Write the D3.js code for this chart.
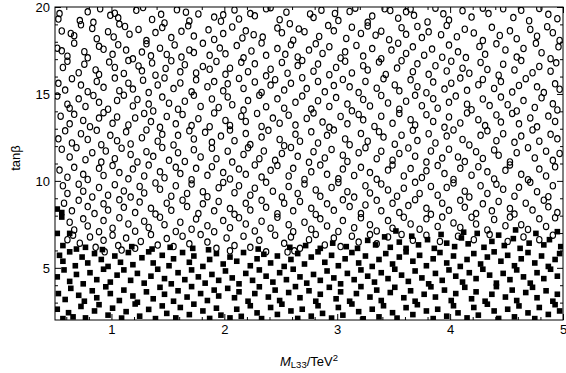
<!DOCTYPE html>
<html><head><meta charset="utf-8">
<script src="https://cdn.jsdelivr.net/npm/d3@7"></script>
<style>body{margin:0;background:#fff}svg{display:block}</style>
</head><body><svg id="c" width="566" height="373"></svg>
<script>
const xDomain=[0.5,5], yDomain=[2,20];
const xMajorTicks=[1,2,3,4,5];
const yMajorTicks=[5,10,15,20];
const xMinorTicks=[0.6,0.8,1.2,1.4,1.6,1.8,2.2,2.4,2.6,2.8,3.2,3.4,3.6,3.8,4.2,4.4,4.6,4.8];
const yMinorTicks=[3,4,6,7,8,9,11,12,13,14,16,17,18,19];
const xTitle={main:"M",sub:"L33",rest:"/TeV",sup:"2"};
const yTitle="tanβ";
// open circles: allowed points (x = M_L33 / TeV^2, y = tan beta)
const openPoints=[
[0.54,19.62],[0.53,19.31],[0.72,19.22],[0.73,18.98],[0.79,19.72],[0.84,19.12],[0.90,19.90],[0.99,19.52],[1.03,19.64],[1.06,19.38],[1.07,19.02],[1.22,19.81],[1.28,19.97],[1.36,19.28],[1.44,19.58],[1.47,19.08],[1.58,19.84],[1.66,19.70],[1.69,19.20],[1.77,19.60],[1.91,19.42],[1.97,19.18],[1.99,19.55],[2.09,19.83],[2.13,19.31],[2.23,19.62],[2.27,19.49],[2.37,19.90],[2.41,19.96],[2.49,19.27],[2.55,19.70],[2.58,19.04],[2.76,19.60],[2.79,19.40],[2.86,19.82],[2.98,19.63],[3.01,19.22],[3.11,19.74],[3.16,19.93],[3.27,19.12],[3.31,19.48],[3.42,19.90],[3.47,19.80],[3.54,19.36],[3.61,19.72],[3.65,19.88],[3.68,19.52],[3.80,19.14],[3.87,19.93],[3.94,19.61],[3.99,19.25],[4.11,19.79],[4.19,19.42],[4.29,19.93],[4.34,19.62],[4.47,19.90],[4.56,19.39],[4.63,19.81],[4.70,19.21],[4.79,19.92],[4.87,19.58],[4.95,19.33],
[0.56,18.62],[0.64,18.48],[0.67,18.35],[0.83,18.77],[0.87,18.18],[0.97,18.58],[1.02,18.28],[1.12,18.88],[1.16,18.44],[1.24,18.71],[1.31,18.07],[1.39,18.53],[1.45,18.82],[1.53,18.24],[1.62,18.60],[1.68,18.92],[1.73,18.33],[1.86,18.69],[1.91,18.13],[1.99,18.47],[2.07,18.85],[2.16,18.22],[2.19,18.63],[2.26,18.41],[2.34,18.27],[2.47,18.79],[2.51,18.52],[2.61,18.09],[2.66,18.74],[2.71,18.58],[2.84,18.31],[2.92,18.93],[2.97,18.63],[3.08,18.19],[3.13,18.84],[3.21,18.48],[3.27,18.91],[3.34,18.38],[3.39,18.61],[3.46,18.12],[3.57,18.81],[3.61,18.43],[3.71,18.88],[3.75,18.24],[3.81,18.57],[3.92,18.41],[3.97,18.94],[4.06,18.29],[4.13,18.72],[4.21,18.51],[4.29,18.07],[4.37,18.83],[4.44,18.36],[4.53,18.63],[4.59,18.18],[4.71,18.71],[4.77,18.32],[4.86,18.87],[4.91,18.52],[4.97,18.08],
[0.52,17.63],[0.56,17.48],[0.61,17.17],[0.67,17.92],[0.76,17.43],[0.79,17.08],[0.89,17.74],[0.93,17.57],[1.01,17.28],[1.06,17.83],[1.13,17.52],[1.19,17.02],[1.27,17.41],[1.31,17.88],[1.35,17.19],[1.43,17.63],[1.49,17.27],[1.56,17.82],[1.62,17.12],[1.69,17.53],[1.73,17.38],[1.81,17.91],[1.87,17.22],[1.96,17.64],[2.01,17.31],[2.11,17.78],[2.17,17.08],[2.24,17.47],[2.33,17.93],[2.37,17.22],[2.47,17.61],[2.54,17.28],[2.59,17.83],[2.65,17.13],[2.75,17.52],[2.81,17.88],[2.87,17.33],[2.93,17.72],[3.03,17.07],[3.07,17.42],[3.17,17.79],[3.23,17.18],[3.31,17.61],[3.39,17.03],[3.48,17.52],[3.54,17.92],[3.61,17.33],[3.67,17.71],[3.77,17.23],[3.84,17.58],[3.93,17.11],[3.99,17.81],[4.07,17.42],[4.14,17.09],[4.26,17.73],[4.31,17.28],[4.41,17.88],[4.49,17.53],[4.59,17.12],[4.65,17.62],[4.76,17.91],[4.81,17.37],[4.89,17.03],[4.96,17.71],
[0.57,16.52],[0.61,16.88],[0.71,16.22],[0.76,16.71],[0.86,16.38],[0.89,16.12],[0.98,16.83],[1.03,16.52],[1.11,16.18],[1.15,16.92],[1.24,16.61],[1.27,16.33],[1.36,16.78],[1.39,16.08],[1.48,16.47],[1.53,16.91],[1.61,16.27],[1.65,16.68],[1.75,16.21],[1.81,16.58],[1.87,16.42],[1.93,16.87],[2.01,16.13],[2.05,16.48],[2.15,16.82],[2.21,16.28],[2.27,16.73],[2.37,16.04],[2.41,16.42],[2.51,16.81],[2.56,16.19],[2.65,16.63],[2.69,16.93],[2.79,16.31],[2.83,16.72],[2.93,16.11],[2.99,16.52],[3.07,16.88],[3.13,16.21],[3.23,16.62],[3.27,16.38],[3.37,16.83],[3.43,16.12],[3.53,16.49],[3.57,16.91],[3.67,16.28],[3.71,16.73],[3.81,16.13],[3.87,16.62],[3.97,16.32],[4.01,16.88],[4.11,16.48],[4.17,16.19],[4.27,16.81],[4.33,16.41],[4.43,16.08],[4.47,16.71],[4.57,16.38],[4.63,16.92],[4.73,16.22],[4.79,16.58],[4.89,16.31],[4.94,16.79],
[0.53,15.61],[0.59,15.22],[0.65,15.88],[0.73,15.51],[0.79,15.13],[0.87,15.72],[0.93,15.38],[1.03,15.91],[1.07,15.19],[1.15,15.62],[1.19,15.28],[1.28,15.79],[1.33,15.08],[1.41,15.52],[1.47,15.92],[1.55,15.31],[1.61,15.63],[1.71,15.12],[1.75,15.81],[1.85,15.42],[1.91,15.71],[1.99,15.18],[2.03,15.58],[2.13,15.89],[2.17,15.32],[2.27,15.69],[2.33,15.09],[2.41,15.51],[2.45,15.82],[2.53,15.22],[2.59,15.61],[2.69,15.93],[2.73,15.31],[2.83,15.72],[2.89,15.12],[2.97,15.48],[3.05,15.83],[3.11,15.41],[3.19,15.08],[3.25,15.72],[3.35,15.33],[3.41,15.88],[3.51,15.52],[3.55,15.18],[3.65,15.81],[3.71,15.42],[3.79,15.07],[3.85,15.68],[3.95,15.28],[4.01,15.62],[4.09,15.91],[4.15,15.21],[4.25,15.53],[4.29,15.83],[4.39,15.32],[4.45,15.71],[4.55,15.11],[4.61,15.49],[4.67,15.88],[4.77,15.41],[4.83,15.08],[4.93,15.58],[4.97,15.27],
[0.52,14.88],[0.61,14.41],[0.63,14.18],[0.71,14.72],[0.77,14.28],[0.84,14.91],[0.89,14.52],[0.97,14.12],[1.05,14.63],[1.11,14.93],[1.19,14.31],[1.23,14.68],[1.33,14.42],[1.37,14.02],[1.45,14.82],[1.51,14.47],[1.59,14.12],[1.65,14.58],[1.73,14.92],[1.79,14.28],[1.89,14.71],[1.95,14.22],[2.03,14.83],[2.07,14.38],[2.17,14.07],[2.21,14.62],[2.31,14.93],[2.37,14.27],[2.47,14.72],[2.53,14.18],[2.63,14.52],[2.69,14.88],[2.77,14.13],[2.83,14.61],[2.93,14.28],[2.99,14.79],[3.09,14.42],[3.13,14.03],[3.23,14.68],[3.29,14.31],[3.39,14.91],[3.45,14.48],[3.55,14.12],[3.61,14.58],[3.69,14.92],[3.75,14.32],[3.85,14.73],[3.89,14.18],[3.99,14.52],[4.05,14.88],[4.15,14.41],[4.19,14.09],[4.29,14.71],[4.35,14.33],[4.45,14.82],[4.51,14.38],[4.59,14.02],[4.65,14.62],[4.75,14.22],[4.81,14.78],[4.91,14.43],[4.95,14.08],
[0.55,13.72],[0.63,13.28],[0.67,13.83],[0.75,13.48],[0.81,13.12],[0.89,13.61],[0.93,13.92],[1.01,13.31],[1.05,13.68],[1.15,13.22],[1.21,13.62],[1.29,13.88],[1.35,13.41],[1.43,13.08],[1.49,13.71],[1.57,13.28],[1.63,13.82],[1.71,13.18],[1.77,13.58],[1.87,13.12],[1.91,13.91],[2.01,13.48],[2.05,13.19],[2.15,13.72],[2.19,13.42],[2.29,13.88],[2.33,13.13],[2.43,13.61],[2.49,13.32],[2.57,13.78],[2.63,13.21],[2.73,13.59],[2.79,13.91],[2.87,13.38],[2.93,13.08],[3.03,13.71],[3.09,13.28],[3.19,13.82],[3.23,13.51],[3.33,13.13],[3.39,13.72],[3.49,13.31],[3.55,13.88],[3.65,13.52],[3.69,13.22],[3.79,13.81],[3.85,13.42],[3.95,13.08],[3.99,13.68],[4.09,13.33],[4.15,13.91],[4.25,13.52],[4.31,13.18],[4.41,13.79],[4.45,13.38],[4.55,13.88],[4.61,13.28],[4.71,13.62],[4.77,13.11],[4.87,13.73],[4.93,13.42],
[0.53,12.42],[0.59,12.88],[0.65,12.18],[0.73,12.71],[0.79,12.38],[0.87,12.91],[0.91,12.08],[0.99,12.62],[1.05,12.31],[1.13,12.82],[1.17,12.12],[1.27,12.48],[1.31,12.93],[1.41,12.28],[1.45,12.68],[1.55,12.07],[1.59,12.62],[1.69,12.88],[1.73,12.41],[1.83,12.79],[1.89,12.22],[1.97,12.58],[2.05,12.92],[2.09,12.31],[2.19,12.72],[2.23,12.09],[2.33,12.52],[2.39,12.91],[2.49,12.38],[2.53,12.02],[2.63,12.68],[2.67,12.28],[2.77,12.82],[2.83,12.18],[2.91,12.62],[2.97,12.92],[3.07,12.41],[3.11,12.08],[3.21,12.72],[3.27,12.28],[3.37,12.83],[3.41,12.52],[3.51,12.11],[3.57,12.63],[3.67,12.91],[3.71,12.32],[3.81,12.71],[3.87,12.18],[3.97,12.58],[4.03,12.93],[4.11,12.38],[4.17,12.07],[4.27,12.62],[4.33,12.88],[4.41,12.31],[4.47,12.71],[4.57,12.22],[4.63,12.58],[4.73,12.93],[4.79,12.28],[4.89,12.68],[4.95,12.42],
[0.56,11.82],[0.63,11.38],[0.69,11.91],[0.77,11.22],[0.83,11.62],[0.91,11.08],[0.95,11.72],[1.03,11.28],[1.09,11.88],[1.17,11.52],[1.23,11.09],[1.31,11.68],[1.37,11.41],[1.45,11.92],[1.51,11.18],[1.59,11.62],[1.65,11.12],[1.73,11.79],[1.79,11.38],[1.89,11.88],[1.93,11.28],[2.03,11.71],[2.07,11.08],[2.17,11.52],[2.21,11.91],[2.31,11.28],[2.35,11.72],[2.45,11.18],[2.51,11.58],[2.59,11.92],[2.65,11.41],[2.75,11.07],[2.79,11.68],[2.89,11.32],[2.95,11.81],[3.05,11.48],[3.09,11.12],[3.19,11.62],[3.25,11.91],[3.35,11.28],[3.39,11.71],[3.49,11.19],[3.55,11.58],[3.63,11.89],[3.69,11.42],[3.79,11.08],[3.83,11.72],[3.93,11.31],[3.99,11.82],[4.07,11.38],[4.13,11.11],[4.23,11.68],[4.29,11.29],[4.39,11.78],[4.43,11.48],[4.53,11.09],[4.59,11.62],[4.69,11.91],[4.75,11.32],[4.85,11.71],[4.91,11.18],[4.97,11.58],
[0.54,10.62],[0.61,10.21],[0.67,10.78],[0.75,10.38],[0.79,10.08],[0.89,10.72],[0.93,10.31],[1.01,10.88],[1.07,10.48],[1.15,10.12],[1.19,10.68],[1.29,10.28],[1.33,10.91],[1.43,10.52],[1.47,10.18],[1.57,10.78],[1.61,10.42],[1.71,10.07],[1.75,10.72],[1.85,10.32],[1.89,10.82],[1.99,10.48],[2.05,10.11],[2.13,10.68],[2.19,10.38],[2.27,10.92],[2.33,10.22],[2.41,10.61],[2.47,10.88],[2.57,10.28],[2.61,10.72],[2.71,10.08],[2.77,10.52],[2.85,10.91],[2.91,10.38],[3.01,10.12],[3.05,10.68],[3.15,10.31],[3.21,10.78],[3.29,10.48],[3.35,10.09],[3.45,10.62],[3.49,10.91],[3.59,10.28],[3.65,10.71],[3.75,10.19],[3.79,10.58],[3.89,10.88],[3.95,10.42],[4.03,10.08],[4.09,10.72],[4.19,10.33],[4.25,10.82],[4.33,10.52],[4.39,10.11],[4.49,10.61],[4.53,10.92],[4.63,10.38],[4.69,10.07],[4.79,10.68],[4.85,10.28],[4.93,10.81],
[0.57,9.72],[0.61,9.28],[0.71,9.81],[0.75,9.41],[0.83,9.08],[0.89,9.62],[0.97,9.18],[1.03,9.78],[1.11,9.42],[1.17,9.07],[1.25,9.68],[1.29,9.31],[1.39,9.88],[1.43,9.52],[1.53,9.12],[1.57,9.72],[1.67,9.28],[1.71,9.82],[1.81,9.38],[1.85,9.09],[1.95,9.61],[1.99,9.91],[2.09,9.32],[2.13,9.72],[2.23,9.18],[2.27,9.58],[2.37,9.92],[2.43,9.41],[2.51,9.08],[2.57,9.68],[2.65,9.28],[2.71,9.82],[2.81,9.48],[2.85,9.11],[2.95,9.62],[3.01,9.91],[3.09,9.38],[3.15,9.07],[3.25,9.72],[3.29,9.31],[3.39,9.82],[3.45,9.48],[3.53,9.12],[3.59,9.58],[3.69,9.92],[3.73,9.28],[3.83,9.68],[3.89,9.18],[3.97,9.62],[4.03,9.88],[4.13,9.41],[4.17,9.08],[4.27,9.72],[4.33,9.28],[4.41,9.81],[4.47,9.52],[4.57,9.12],[4.61,9.63],[4.71,9.92],[4.77,9.38],[4.87,9.09],[4.91,9.72],
[0.58,8.72],[0.65,8.28],[0.71,8.88],[0.79,8.52],[0.85,8.12],[0.93,8.68],[0.97,8.32],[1.07,8.91],[1.11,8.48],[1.21,8.18],[1.25,8.78],[1.35,8.42],[1.39,8.09],[1.49,8.72],[1.53,8.31],[1.63,8.89],[1.67,8.52],[1.77,8.12],[1.81,8.68],[1.91,8.28],[1.95,8.82],[2.05,8.41],[2.09,8.08],[2.19,8.71],[2.23,8.32],[2.33,8.88],[2.37,8.48],[2.47,8.11],[2.53,8.72],[2.61,8.28],[2.67,8.82],[2.77,8.42],[2.81,8.07],[2.91,8.68],[2.97,8.31],[3.05,8.91],[3.11,8.52],[3.21,8.12],[3.25,8.62],[3.35,8.88],[3.39,8.28],[3.49,8.71],[3.55,8.18],[3.63,8.58],[3.69,8.92],[3.79,8.42],[3.83,8.08],[3.93,8.72],[3.99,8.31],[4.09,8.88],[4.13,8.48],[4.23,8.12],[4.29,8.68],[4.37,8.28],[4.43,8.82],[4.53,8.41],[4.57,8.09],[4.67,8.72],[4.73,8.32],[4.83,8.89],[4.87,8.51],[4.95,8.18],
[0.63,7.62],[0.67,7.18],[0.75,7.82],[0.79,7.41],[0.89,7.08],[0.93,7.72],[1.01,7.28],[1.07,7.88],[1.15,7.52],[1.21,7.11],[1.29,7.68],[1.33,7.32],[1.43,7.91],[1.47,7.48],[1.57,7.09],[1.61,7.62],[1.71,7.22],[1.75,7.81],[1.85,7.42],[1.91,7.08],[1.99,7.72],[2.05,7.31],[2.13,7.88],[2.19,7.52],[2.27,7.12],[2.33,7.68],[2.41,7.28],[2.47,7.91],[2.57,7.48],[2.61,7.08],[2.71,7.62],[2.77,7.22],[2.85,7.82],[2.91,7.41],[3.01,7.09],[3.05,7.72],[3.15,7.31],[3.21,7.88],[3.29,7.48],[3.35,7.12],[3.45,7.72],[3.49,7.28],[3.59,7.91],[3.65,7.52],[3.73,7.22],[3.79,7.82],[3.89,7.38],[3.93,7.92],[4.03,7.58],[4.09,7.32],[4.19,7.91],[4.23,7.52],[4.33,7.18],[4.39,7.78],[4.49,7.42],[4.53,7.92],[4.63,7.48],[4.69,7.21],[4.79,7.82],[4.85,7.38],[4.93,7.88],
[0.61,6.62],[0.66,6.88],[0.72,6.42],[0.81,6.78],[0.86,6.18],[0.93,6.58],[0.94,5.92],[1.01,6.88],[1.06,6.28],[1.09,6.02],[1.13,6.71],[1.21,6.12],[1.26,6.52],[1.35,6.91],[1.41,6.31],[1.49,6.68],[1.55,6.22],[1.63,6.82],[1.69,6.38],[1.79,6.91],[1.85,6.48],[1.93,6.12],[2.02,6.72],[2.05,5.98],[2.09,6.28],[2.17,6.82],[2.23,6.18],[2.31,6.58],[2.37,5.92],[2.45,6.88],[2.53,6.41],[2.56,5.91],[2.59,6.78],[2.62,5.98],[2.67,6.12],[2.75,6.62],[2.81,6.92],[2.89,6.32],[2.97,6.71],[3.03,6.22],[3.13,6.82],[3.19,6.48],[3.29,6.91],[3.35,6.38],[3.45,6.78],[3.57,6.92],[3.67,6.58],[3.79,6.88],[3.91,6.52],[4.07,6.82],[4.21,6.62],[4.35,6.91],[4.51,6.52],[4.65,6.78],[4.79,6.62],[4.91,6.88]
];
// filled squares: excluded points
const filledPoints=[
[0.52,8.38],[0.56,8.18],[0.56,7.92],
[0.52,2.62],[0.57,2.08],[0.62,2.42],[0.66,2.18],[0.73,2.78],[0.77,2.12],[0.85,2.52],[0.89,2.88],[0.97,2.28],[1.01,2.68],[1.09,2.11],[1.13,2.48],[1.21,2.92],[1.25,2.22],[1.33,2.61],[1.39,2.08],[1.45,2.81],[1.49,2.38],[1.57,2.12],[1.61,2.72],[1.69,2.31],[1.73,2.91],[1.81,2.52],[1.87,2.09],[1.93,2.68],[1.97,2.28],[2.05,2.12],[2.11,2.62],[2.15,2.21],[2.23,2.82],[2.29,2.41],[2.33,2.08],[2.41,2.72],[2.47,2.32],[2.51,2.91],[2.59,2.52],[2.65,2.09],[2.69,2.62],[2.77,2.22],[2.83,2.82],[2.87,2.38],[2.95,2.11],[3.01,2.72],[3.05,2.28],[3.13,2.92],[3.19,2.48],[3.23,2.07],[3.31,2.62],[3.37,2.18],[3.41,2.82],[3.49,2.42],[3.53,2.11],[3.61,2.71],[3.67,2.31],[3.71,2.88],[3.79,2.52],[3.85,2.08],[3.89,2.62],[3.97,2.22],[4.03,2.82],[4.07,2.41],[4.15,2.12],[4.21,2.72],[4.25,2.28],[4.33,2.91],[4.39,2.52],[4.43,2.09],[4.51,2.62],[4.57,2.18],[4.61,2.81],[4.69,2.41],[4.75,2.08],[4.79,2.72],[4.87,2.32],[4.93,2.88],[4.97,2.52],
[0.53,3.52],[0.59,3.18],[0.64,3.82],[0.71,3.42],[0.76,3.08],[0.83,3.68],[0.87,3.28],[0.95,3.91],[0.99,3.52],[1.07,3.12],[1.11,3.72],[1.19,3.38],[1.23,3.02],[1.31,3.62],[1.37,3.22],[1.43,3.88],[1.47,3.48],[1.55,3.08],[1.59,3.68],[1.67,3.32],[1.71,3.92],[1.79,3.52],[1.85,3.12],[1.91,3.72],[1.95,3.38],[2.03,3.82],[2.09,3.28],[2.13,3.62],[2.21,3.08],[2.27,3.52],[2.31,3.91],[2.39,3.32],[2.45,3.72],[2.49,3.12],[2.57,3.58],[2.63,3.92],[2.67,3.28],[2.75,3.68],[2.81,3.08],[2.85,3.48],[2.93,3.88],[2.99,3.22],[3.03,3.62],[3.11,3.08],[3.17,3.52],[3.21,3.92],[3.29,3.32],[3.35,3.72],[3.39,3.12],[3.47,3.58],[3.51,3.88],[3.59,3.28],[3.65,3.68],[3.69,3.08],[3.77,3.48],[3.83,3.91],[3.87,3.32],[3.95,3.72],[4.01,3.12],[4.05,3.52],[4.13,3.88],[4.19,3.22],[4.23,3.62],[4.31,3.08],[4.37,3.48],[4.41,3.92],[4.49,3.32],[4.55,3.72],[4.59,3.12],[4.67,3.58],[4.73,3.88],[4.77,3.28],[4.85,3.68],[4.91,3.08],[4.95,3.48],
[0.52,4.48],[0.58,4.88],[0.63,4.22],[0.69,4.62],[0.75,4.08],[0.81,4.72],[0.87,4.32],[0.93,4.92],[0.99,4.18],[1.05,4.58],[1.11,4.88],[1.17,4.28],[1.23,4.68],[1.29,4.12],[1.35,4.52],[1.41,4.92],[1.47,4.38],[1.53,4.08],[1.59,4.72],[1.65,4.32],[1.71,4.88],[1.77,4.48],[1.83,4.12],[1.89,4.62],[1.95,4.28],[2.01,4.82],[2.07,4.42],[2.13,4.08],[2.19,4.68],[2.25,4.28],[2.31,4.88],[2.37,4.52],[2.43,4.18],[2.49,4.72],[2.55,4.32],[2.61,4.92],[2.67,4.48],[2.73,4.12],[2.79,4.62],[2.85,4.28],[2.91,4.82],[2.97,4.42],[3.03,4.08],[3.09,4.68],[3.15,4.32],[3.21,4.88],[3.27,4.52],[3.33,4.18],[3.39,4.72],[3.45,4.38],[3.51,4.92],[3.57,4.58],[3.63,4.22],[3.69,4.82],[3.75,4.42],[3.81,4.08],[3.87,4.68],[3.93,4.28],[3.99,4.88],[4.05,4.52],[4.11,4.18],[4.17,4.72],[4.23,4.38],[4.29,4.92],[4.35,4.58],[4.41,4.12],[4.47,4.68],[4.53,4.32],[4.59,4.88],[4.65,4.48],[4.71,4.12],[4.77,4.72],[4.83,4.38],[4.89,4.92],[4.95,4.52],
[0.54,5.72],[0.57,5.38],[0.63,5.92],[0.68,5.12],[0.74,5.62],[0.79,5.28],[0.85,5.82],[0.91,5.48],[0.97,5.08],[1.03,5.68],[1.08,5.32],[1.15,5.88],[1.19,5.18],[1.27,5.58],[1.33,5.92],[1.37,5.28],[1.45,5.72],[1.51,5.12],[1.55,5.52],[1.63,5.88],[1.69,5.32],[1.73,5.68],[1.81,5.08],[1.87,5.48],[1.93,5.82],[1.99,5.22],[2.05,5.62],[2.11,5.38],[2.17,5.88],[2.23,5.12],[2.29,5.52],[2.35,5.78],[2.41,5.28],[2.47,5.68],[2.53,5.08],[2.59,5.48],[2.65,5.82],[2.71,5.22],[2.77,5.62],[2.83,5.92],[2.89,5.32],[2.95,5.72],[3.01,5.12],[3.07,5.52],[3.13,5.88],[3.19,5.28],[3.25,5.68],[3.31,5.08],[3.37,5.48],[3.43,5.82],[3.49,5.22],[3.55,5.62],[3.61,5.92],[3.67,5.38],[3.73,5.72],[3.79,5.12],[3.85,5.52],[3.91,5.88],[3.97,5.28],[4.03,5.68],[4.09,5.08],[4.15,5.48],[4.21,5.82],[4.27,5.22],[4.33,5.62],[4.39,5.92],[4.45,5.38],[4.51,5.72],[4.57,5.12],[4.63,5.52],[4.69,5.88],[4.75,5.28],[4.81,5.68],[4.87,5.08],[4.93,5.48],[4.97,5.82],
[0.52,6.98],[0.57,6.28],[0.63,6.98],[0.69,6.08],[0.77,6.18],[0.92,6.05],[1.18,6.22],[1.36,6.08],[1.52,6.18],[1.72,6.12],[1.86,6.04],[2.30,6.08],[2.58,6.18],[2.72,6.28],[2.85,6.12],[2.96,6.42],[3.08,6.22],[3.18,6.12],[3.27,6.58],[3.34,6.32],[3.42,6.78],[3.47,6.18],[3.55,6.48],[3.61,6.12],[3.66,6.82],[3.72,6.32],[3.80,6.62],[3.86,6.12],[3.92,6.92],[3.97,6.42],[4.04,6.22],[4.10,6.72],[4.16,6.38],[4.24,6.98],[4.30,6.18],[4.37,6.52],[4.43,6.88],[4.48,6.28],[4.56,6.68],[4.62,6.12],[4.70,6.42],[4.76,6.98],[4.83,6.32],[4.88,6.62],[4.95,7.08],[4.98,6.22],[3.52,7.12],[4.12,7.05],[4.58,7.18]
];

const L=55,R=563,T=7,B=320;
const svg=d3.select("#c");
const x=d3.scaleLinear().domain(xDomain).range([L,R]);
const y=d3.scaleLinear().domain(yDomain).range([B,T]);
const font="'Liberation Sans', Arial, Helvetica, sans-serif";

svg.append("defs").append("clipPath").attr("id","clip")
  .append("rect").attr("x",L).attr("y",T).attr("width",R-L).attr("height",B-T);

const g=svg.append("g").attr("clip-path","url(#clip)");
g.selectAll("ellipse").data(openPoints).join("ellipse")
  .attr("cx",d=>x(d[0])).attr("cy",d=>y(d[1]))
  .attr("rx",2.7).attr("ry",3.2)
  .attr("fill","none").attr("stroke","#000").attr("stroke-width",1.1);
g.selectAll("rect").data(filledPoints).join("rect")
  .attr("x",d=>x(d[0])-2.8).attr("y",d=>y(d[1])-2.8)
  .attr("width",5.6).attr("height",5.6).attr("fill","#000");

function style(sel){
  sel.select(".domain").remove();
  sel.selectAll("line").attr("stroke","#000").attr("stroke-width",1);
  sel.selectAll("text").attr("fill","#000").style("font-family",font).style("font-size","13px");
}
// major axes with inward ticks
svg.append("g").attr("transform",`translate(0,${B})`)
  .call(d3.axisBottom(x).tickValues(xMajorTicks).tickFormat(d3.format("d")).tickSize(-6).tickPadding(5)).call(style);
svg.append("g").attr("transform",`translate(${L},0)`)
  .call(d3.axisLeft(y).tickValues(yMajorTicks).tickFormat(d3.format("d")).tickSize(-6).tickPadding(5)).call(style);
svg.append("g").attr("transform",`translate(0,${T})`)
  .call(d3.axisTop(x).tickValues(xMajorTicks).tickFormat("").tickSize(-6)).call(style);
svg.append("g").attr("transform",`translate(${R},0)`)
  .call(d3.axisRight(y).tickValues(yMajorTicks).tickFormat("").tickSize(-6)).call(style);
// minor ticks
svg.append("g").attr("transform",`translate(0,${B})`)
  .call(d3.axisBottom(x).tickValues(xMinorTicks).tickFormat("").tickSize(-3)).call(style);
svg.append("g").attr("transform",`translate(0,${T})`)
  .call(d3.axisTop(x).tickValues(xMinorTicks).tickFormat("").tickSize(-3)).call(style);
svg.append("g").attr("transform",`translate(${L},0)`)
  .call(d3.axisLeft(y).tickValues(yMinorTicks).tickFormat("").tickSize(-3)).call(style);
svg.append("g").attr("transform",`translate(${R},0)`)
  .call(d3.axisRight(y).tickValues(yMinorTicks).tickFormat("").tickSize(-3)).call(style);

svg.append("rect").attr("x",L).attr("y",T).attr("width",R-L).attr("height",B-T)
  .attr("fill","none").attr("stroke","#000").attr("stroke-width",1);

// axis titles
const xt=svg.append("text").attr("x",(L+R)/2).attr("y",366).attr("text-anchor","middle")
  .style("font-family",font).style("font-size","13px");
xt.append("tspan").style("font-style","italic").text(xTitle.main);
xt.append("tspan").style("font-size","9.5px").attr("dy",2).text(xTitle.sub);
xt.append("tspan").attr("dy",-2).text(xTitle.rest);
xt.append("tspan").style("font-size","9.5px").attr("dy",-5).text(xTitle.sup);

svg.append("text").attr("transform","translate(20,158) rotate(-90)").attr("text-anchor","middle")
  .style("font-family",font).style("font-size","13px").text(yTitle);
</script></body></html>
